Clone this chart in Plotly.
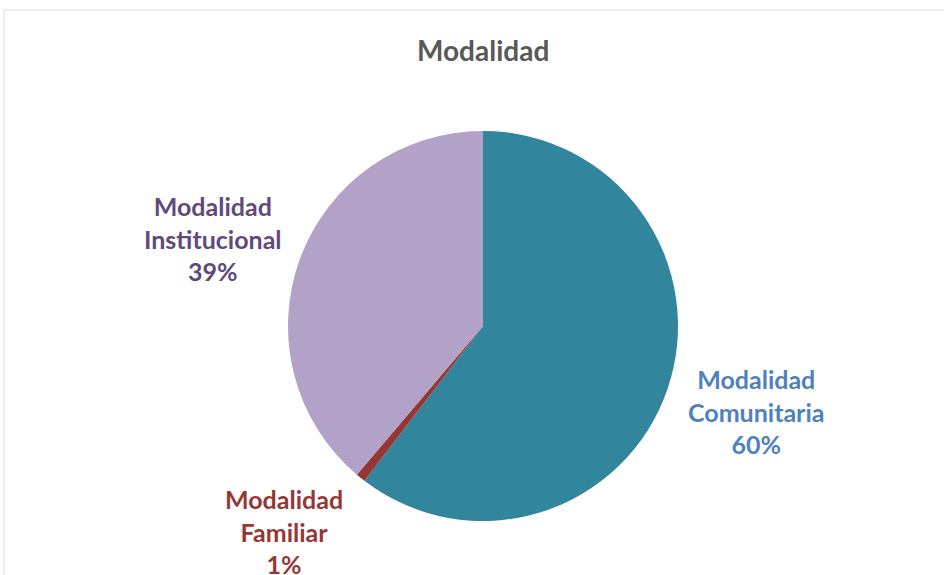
import plotly.graph_objects as go

# Chart data
categories = ["Modalidad Comunitaria", "Modalidad Familiar", "Modalidad Institucional"]
values = [60.4, 0.8, 38.8]
slice_colors = ["#31859C", "#953735", "#B3A2C7"]
label_colors = ["#4F81BD", "#953735", "#604A7B"]

W, H = 944, 575
cx, cy, r = 483, 326, 195

# label anchor points in pixels (centre of the text block)
label_pos = [(756, 411), (284, 531), (213, 238)]


def px(x, y):
    return x / W, 1 - y / H


fig = go.Figure()
fig.add_trace(go.Pie(
    labels=categories,
    values=values,
    sort=False,
    direction="clockwise",
    rotation=0,
    marker=dict(colors=slice_colors, line=dict(width=0)),
    textinfo="none",
    hoverinfo="label+percent",
    showlegend=False,
    domain=dict(x=[(cx - r) / W, (cx + r) / W], y=[1 - (cy + r) / H, 1 - (cy - r) / H]),
))

total = sum(values)
annotations = []
for name, v, col, (lx, ly) in zip(categories, values, label_colors, label_pos):
    first, second = name.split(" ", 1)
    ax, ay = px(lx, ly)
    annotations.append(dict(
        x=ax, y=ay, xref="paper", yref="paper",
        xanchor="center", yanchor="middle",
        text=f"<b>{first}<br>{second}<br>{round(v / total * 100)}%</b>",
        showarrow=False, align="center",
        font=dict(family="Lato", size=25, color=col),
    ))

tx, ty = px(483, 50)
annotations.append(dict(
    x=tx, y=ty, xref="paper", yref="paper",
    xanchor="center", yanchor="middle", text="<b>Modalidad</b>",
    showarrow=False, font=dict(family="Lato", size=28, color="#595959"),
))

fig.update_layout(
    width=W, height=H,
    margin=dict(l=0, r=0, t=0, b=0),
    paper_bgcolor="white",
    plot_bgcolor="white",
    annotations=annotations,
    shapes=[dict(
        type="rect", xref="paper", yref="paper",
        x0=4 / W, x1=1.05, y0=-0.05, y1=1 - 10 / H,
        line=dict(color="#D9D9D9", width=1),
    )],
)

# drop the default page margin so the figure sits at the window origin
fig.write_html(
    "out.html",
    config={"displayModeBar": False},
    post_script="document.body.style.margin='0';document.body.style.overflow='hidden';",
)
